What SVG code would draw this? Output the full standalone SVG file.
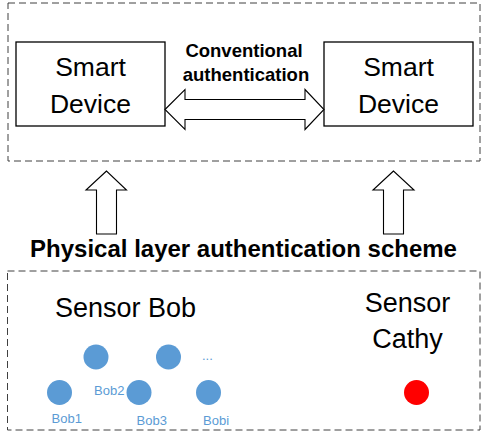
<svg xmlns="http://www.w3.org/2000/svg" width="481" height="434" viewBox="0 0 481 434">
<style>
.dash{fill:none;stroke:#404040;stroke-width:1;stroke-dasharray:7 4}
.box{fill:#fff;stroke:#000;stroke-width:1.3}
.arr{fill:#fff;stroke:#000;stroke-width:1.1;stroke-linejoin:miter}
.big{font-family:"Liberation Sans",Arial,sans-serif;font-size:26.5px;fill:#000;text-anchor:middle}
.sen{font-family:"Liberation Sans",Arial,sans-serif;font-size:27px;fill:#000;text-anchor:middle}
.bold{font-family:"Liberation Sans",Arial,sans-serif;font-weight:bold;fill:#000;text-anchor:middle}
.lbl{font-family:"Liberation Sans",Arial,sans-serif;font-size:13px;fill:#5B9BD5}
.dot{fill:#5B9BD5}
</style>
<rect id="top-region" class="dash" x="8" y="3" width="472" height="158"/>
<rect id="bottom-region" class="dash" x="7.5" y="271" width="472.5" height="159"/>
<g id="smart-device-left">
<rect class="box" x="16" y="42" width="149" height="84"/>
<text class="big" x="90.5" y="76">Smart</text>
<text class="big" x="90.5" y="113">Device</text>
</g>
<g id="smart-device-right">
<rect class="box" x="324" y="42" width="149" height="84"/>
<text class="big" x="398.5" y="76">Smart</text>
<text class="big" x="398.5" y="113">Device</text>
</g>
<g id="connectors">
<path class="arr" d="M165,109.5 L185,89.5 L185,99.5 L305,99.5 L305,89.5 L324,109.5 L305,129.5 L305,119.5 L185,119.5 L185,129.5 Z"/>
<path class="arr" d="M106.5,171 L86,190 L96.5,190 L96.5,234 L116.5,234 L116.5,190 L126.5,190 Z"/>
<path class="arr" d="M393.5,171 L373,190 L383.5,190 L383.5,234 L403.5,234 L403.5,190 L414,190 Z"/>
</g>
<g id="conventional-label">
<text class="bold" x="244" y="57" font-size="18.5">Conventional</text>
<text class="bold" x="246" y="81" font-size="18.5">authentication</text>
</g>
<g id="physical-label">
<text class="bold" x="243.5" y="257" font-size="24">Physical layer authentication scheme</text>
</g>
<g id="sensor-bob">
<text class="sen" x="125.5" y="317">Sensor Bob</text>
<circle class="dot" cx="96" cy="357" r="12.5"/>
<circle class="dot" cx="168.5" cy="357" r="12.5"/>
<text class="lbl" x="202" y="360">...</text>
<circle class="dot" cx="59.5" cy="392.5" r="12.5"/>
<circle class="dot" cx="139" cy="392.5" r="12.5"/>
<circle class="dot" cx="208.5" cy="392.5" r="12.5"/>
<text class="lbl" x="51.5" y="423">Bob1</text>
<text class="lbl" x="94" y="395">Bob2</text>
<text class="lbl" x="136.5" y="425">Bob3</text>
<text class="lbl" x="203" y="425">Bobi</text>
</g>
<g id="sensor-cathy">
<text class="sen" x="407.5" y="312">Sensor</text>
<text class="sen" x="407.5" y="348">Cathy</text>
<circle cx="416.5" cy="392.5" r="12.5" fill="#FF0000"/>
</g>
</svg>
